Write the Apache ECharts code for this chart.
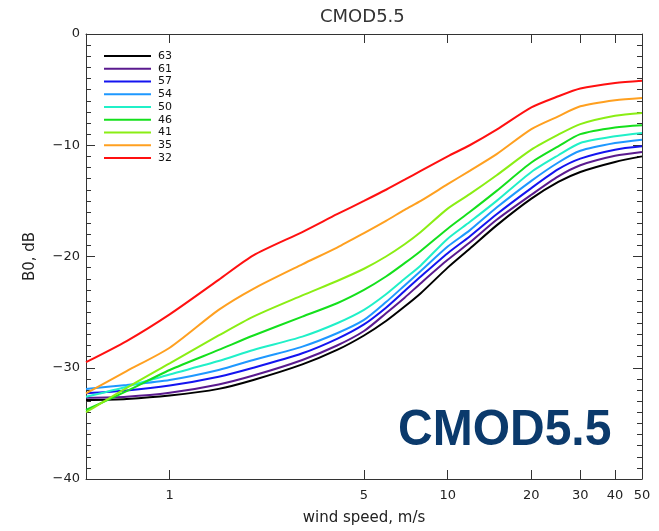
<!DOCTYPE html>
<html>
<head>
<meta charset="utf-8">
<script src="https://cdn.jsdelivr.net/npm/echarts@6/dist/echarts.min.js"></script>
<style>
  html, body { margin: 0; background: #fff; }
  #chart { width: 659px; height: 531px; }
</style>
</head>
<body>
<div id="chart"></div>
<script>
// wind speed samples (m/s), log x axis
const speeds = [0.5, 0.7, 1, 1.5, 2, 3, 4, 5, 6, 7, 8, 10, 12, 15, 20, 25, 30, 40, 50];

// B0 (dB) per incidence angle
const b0_63 = [-32.9, -32.8, -32.5, -31.9, -31.1, -29.7, -28.4, -27.1, -25.8, -24.5, -23.3, -21.0, -19.3, -17.2, -14.8, -13.3, -12.4, -11.5, -11.0];
const b0_61 = [-32.7, -32.6, -32.25, -31.5, -30.7, -29.3, -28.0, -26.7, -25.1, -23.7, -22.4, -20.3, -18.75, -16.7, -14.45, -12.8, -11.8, -10.95, -10.6];
const b0_57 = [-32.3, -32.05, -31.6, -30.8, -30.0, -28.7, -27.4, -26.1, -24.6, -23.1, -21.8, -19.7, -18.2, -16.2, -13.85, -12.15, -11.2, -10.4, -10.1];
const b0_54 = [-31.9, -31.55, -31.1, -30.2, -29.3, -28.1, -26.9, -25.7, -24.1, -22.6, -21.3, -19.1, -17.65, -15.6, -13.2, -11.55, -10.5, -9.8, -9.5];
const b0_50 = [-32.6, -31.7, -30.6, -29.4, -28.4, -27.2, -26.0, -24.8, -23.4, -22.0, -20.8, -18.4, -16.9, -15.0, -12.4, -10.9, -9.8, -9.2, -8.9];
const b0_46 = [-33.8, -32.1, -30.2, -28.4, -27.1, -25.4, -24.2, -23.0, -21.8, -20.6, -19.5, -17.5, -16.0, -14.1, -11.55, -10.1, -9.0, -8.4, -8.2];
const b0_41 = [-34.0, -31.8, -29.6, -27.1, -25.4, -23.5, -22.2, -21.1, -20.0, -18.9, -17.8, -15.7, -14.4, -12.7, -10.4, -9.05, -8.1, -7.35, -7.1];
const b0_35 = [-32.3, -30.3, -28.2, -24.8, -22.9, -20.7, -19.2, -17.9, -16.8, -15.8, -15.0, -13.5, -12.3, -10.8, -8.55, -7.4, -6.5, -5.95, -5.75];
const b0_32 = [-29.5, -27.6, -25.2, -22.1, -19.9, -17.8, -16.2, -15.0, -14.0, -13.1, -12.3, -11.0, -10.0, -8.6, -6.6, -5.6, -4.9, -4.4, -4.2];

const angles = ['63', '61', '57', '54', '50', '46', '41', '35', '32'];
const curves = [b0_63, b0_61, b0_57, b0_54, b0_50, b0_46, b0_41, b0_35, b0_32];
const colors = ['#000000', '#5a1a8e', '#1414f0', '#1e98ff', '#20f0c8', '#14e01c', '#8aee14', '#ffa020', '#ff1010'];

const xTicks = [1, 5, 10, 20, 30, 40];
const xLabels = [1, 5, 10, 20, 30, 40, 50];
const yMin = -40, yMax = 0, yStep = 10;

const lg = Math.log10;
const font = '"DejaVu Sans", sans-serif';
const axisColor = '#333';

const chart = echarts.init(document.getElementById('chart'));

const axisLine = { show: true, onZero: false, lineStyle: { color: axisColor, width: 1 } };

function xAxis(pos, withLabels) {
  return {
    type: 'value',
    position: pos,
    min: lg(0.5),
    max: lg(50),
    axisLine: axisLine,
    axisTick: { show: true, inside: true, length: 9, customValues: xTicks.map(lg), lineStyle: { color: axisColor } },
    axisLabel: withLabels ? {
      customValues: xLabels.map(lg),
      formatter: v => String(Math.round(Math.pow(10, v))),
      margin: 10, fontSize: 13, color: '#222', fontFamily: font
    } : { show: false },
    splitLine: { show: false }
  };
}

function yAxis(pos, withLabels) {
  return {
    type: 'value',
    position: pos,
    min: yMin,
    max: yMax,
    interval: yStep,
    axisLine: axisLine,
    axisTick: { show: true, inside: true, length: 9, lineStyle: { color: axisColor } },
    minorTick: { show: true, splitNumber: 10, length: 5, lineStyle: { color: axisColor } },
    axisLabel: withLabels ? {
      formatter: v => (v < 0 ? '\u2212' + (-v) : String(v)),
      margin: 6, fontSize: 13, color: '#222', fontFamily: font
    } : { show: false },
    splitLine: { show: false },
    minorSplitLine: { show: false }
  };
}

const xBottom = xAxis('bottom', true);
xBottom.name = 'wind speed, m/s';
xBottom.nameLocation = 'middle';
xBottom.nameGap = 32;
xBottom.nameTextStyle = { fontSize: 15, color: '#222', fontFamily: font };

const yLeft = yAxis('left', true);
yLeft.name = 'B0, dB';
yLeft.nameLocation = 'middle';
yLeft.nameGap = 48;
yLeft.nameTextStyle = { fontSize: 15, color: '#222', fontFamily: font };

const option = {
  backgroundColor: '#fff',
  animation: false,
  title: {
    text: 'CMOD5.5',
    left: 320,
    top: 8,
    padding: 0,
    textStyle: { fontSize: 18, fontWeight: 'normal', color: '#333', fontFamily: font }
  },
  grid: { left: 86, right: 17, top: 34, bottom: 49 },
  legend: {
    orient: 'vertical',
    left: 104,
    top: 50,
    padding: 0,
    icon: 'rect',
    itemWidth: 47,
    itemHeight: 2,
    itemGap: 0.75,
    selectedMode: false,
    data: angles,
    textStyle: { fontSize: 11, lineHeight: 12, color: '#111', fontFamily: font, padding: [0, 0, 0, 2] }
  },
  xAxis: [xBottom, xAxis('top', false)],
  yAxis: [yLeft, yAxis('right', false)],
  graphic: [{
    type: 'text',
    left: 398,
    top: 406,
    scaleY: 1.06,
    style: {
      text: 'CMOD5.5',
      font: 'bold 48px "Liberation Sans", Arial, sans-serif',
      fill: '#0b3a6c'
    }
  }],
  series: angles.map((a, k) => ({
    name: a,
    type: 'line',
    xAxisIndex: 0,
    yAxisIndex: 0,
    symbol: 'none',
    smooth: 0.25,
    color: colors[k],
    lineStyle: { width: 2, color: colors[k] },
    data: speeds.map((s, i) => [lg(s), curves[k][i]])
  }))
};

chart.setOption(option);
</script>
</body>
</html>
